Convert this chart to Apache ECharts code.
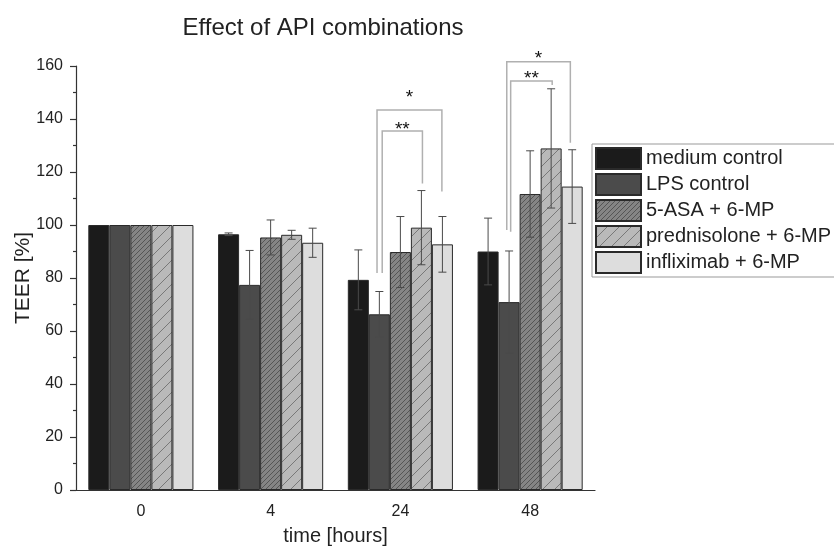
<!DOCTYPE html>
<html style="height: 100%">
<head>
<meta charset="utf-8">
</head>
<body style="height: 100%; margin: 0; background: #fff">
<div id="container" style="width: 834px; height: 549px"></div>
<script type="text/javascript" src="https://cdn.jsdelivr.net/npm/echarts@6/dist/echarts.min.js"></script>
<script type="text/javascript">
// data
var categories = ['0', '4', '24', '48'];
var seriesNames = ['medium control', 'LPS control', '5-ASA + 6-MP', 'prednisolone + 6-MP', 'infliximab + 6-MP'];

var mediumMean = [100, 96.5, 79.3, 90];
var lpsMean = [100, 77.4, 66.3, 70.9];
var asaMean = [100, 95.3, 89.8, 111.7];
var predMean = [100, 96.3, 99, 128.9];
var inflixMean = [100, 93.3, 92.7, 114.5];

var mediumErr = [0, 0.5, 11.3, 12.6];
var lpsErr = [0, 13, 8.6, 19.3];
var asaErr = [0, 6.6, 13.4, 16.3];
var predErr = [0, 1.7, 14, 22.5];
var inflixErr = [0, 5.5, 10.5, 13.9];

// significance brackets: [category, leftOffset, rightOffset, top, leftBottom, rightBottom, labelY, label]
var brackets = [
    [2, -0.18, 0.32, 143.4, 81.9, 112.6, 149.4, '*'],
    [2, -0.14, 0.17, 135.5, 81.9, 115.7, 137.5, '**'],
    [3, -0.18, 0.31, 161.6, 98.1, 131, 164.2, '*'],
    [3, -0.15, 0.17, 154.3, 97.5, 152.8, 156.6, '**']
];

var means = [mediumMean, lpsMean, asaMean, predMean, inflixMean];
var errs = [mediumErr, lpsErr, asaErr, predErr, inflixErr];

function hatch(bg, line, step, width) {
    var c = document.createElement('canvas');
    c.width = step;
    c.height = step;
    var ctx = c.getContext('2d');
    ctx.fillStyle = bg;
    ctx.fillRect(0, 0, step, step);
    ctx.strokeStyle = line;
    ctx.lineWidth = width;
    ctx.beginPath();
    ctx.moveTo(-1, step + 1);
    ctx.lineTo(step + 1, -1);
    ctx.moveTo(-1, 1);
    ctx.lineTo(1, -1);
    ctx.moveTo(step - 1, step + 1);
    ctx.lineTo(step + 1, step - 1);
    ctx.stroke();
    return { image: c, repeat: 'repeat' };
}

var fills = [
    '#1b1b1b',
    '#4b4b4b',
    hatch('#858585', '#555555', 5, 1),
    hatch('#b9b9b9', '#787878', 12, 1),
    '#dddddd'
];

var dom = document.getElementById('container');
var myChart = echarts.init(dom);

var barFrac = 0.81;
var series = [];

seriesNames.forEach(function (name, i) {
    series.push({
        type: 'bar',
        name: name,
        data: means[i],
        barGap: '0%',
        barCategoryGap: '19%',
        itemStyle: {
            color: fills[i],
            borderColor: '#2a2a2a',
            borderWidth: 1
        }
    });
});

// error bars
seriesNames.forEach(function (name, i) {
    var data = means[i].map(function (m, k) {
        return [k, m - errs[i][k], m + errs[i][k]];
    });
    series.push({
        type: 'custom',
        name: name + ' err',
        data: data,
        z: 5,
        silent: true,
        renderItem: function (params, api) {
            var k = api.value(0);
            if (api.value(2) - api.value(1) < 0.01) return null;
            var band = api.size([1, 0])[0];
            var off = band * barFrac / 5 * (i - 2);
            var lo = api.coord([k, api.value(1)]);
            var hi = api.coord([k, api.value(2)]);
            var x = lo[0] + off;
            var cap = 4;
            var st = { stroke: '#4a4a4a', lineWidth: 1 };
            return {
                type: 'group',
                children: [
                    { type: 'line', shape: { x1: x, y1: lo[1], x2: x, y2: hi[1] }, style: st },
                    { type: 'line', shape: { x1: x - cap, y1: lo[1], x2: x + cap, y2: lo[1] }, style: st },
                    { type: 'line', shape: { x1: x - cap, y1: hi[1], x2: x + cap, y2: hi[1] }, style: st }
                ]
            };
        }
    });
});

// brackets
series.push({
    type: 'custom',
    name: 'brackets',
    data: brackets,
    z: 6,
    silent: true,
    clip: false,
    renderItem: function (params, api) {
        var k = api.value(0);
        var band = api.size([1, 0])[0];
        var top = api.coord([k, api.value(3)]);
        var lb = api.coord([k, api.value(4)]);
        var rb = api.coord([k, api.value(5)]);
        var lab = api.coord([k, api.value(6)]);
        var xl = top[0] + band * api.value(1);
        var xr = top[0] + band * api.value(2);
        var st = { stroke: '#b0b0b0', lineWidth: 1.5, fill: null };
        return {
            type: 'group',
            children: [
                {
                    type: 'polyline',
                    shape: { points: [[xl, lb[1]], [xl, top[1]], [xr, top[1]], [xr, rb[1]]] },
                    style: st
                },
                {
                    type: 'text',
                    x: (xl + xr) / 2,
                    y: lab[1] + 4,
                    style: {
                        text: brackets[params.dataIndex][7],
                        fill: '#111',
                        font: '19px "Liberation Sans", Arial, sans-serif',
                        align: 'center',
                        verticalAlign: 'middle'
                    }
                }
            ]
        };
    }
});

var option = {
    backgroundColor: '#fff',
    animation: false,
    textStyle: { fontFamily: '"Liberation Sans", Arial, sans-serif' },
    title: {
        text: 'Effect of API combinations',
        left: 318,
        textAlign: 'center',
        top: 11,
        textStyle: { fontSize: 24, fontWeight: 'normal', color: '#222' }
    },
    legend: {
        data: seriesNames,
        orient: 'vertical',
        left: 592,
        top: 144,
        itemWidth: 45,
        itemHeight: 21,
        itemGap: 3,
        padding: [3, 40, 3, 3],
        borderColor: '#999',
        borderWidth: 1,
        icon: 'rect',
        textStyle: { fontSize: 20, color: '#222', padding: [0, 0, 0, 0] }
    },
    grid: {
        left: 76,
        right: 239,
        top: 66,
        bottom: 59,
        containLabel: false,
        outerBoundsMode: 'none'
    },
    xAxis: [{
        type: 'category',
        data: categories,
        name: 'time [hours]',
        nameLocation: 'middle',
        nameGap: 36,
        nameTextStyle: { fontSize: 20, color: '#222' },
        axisLine: { lineStyle: { color: '#333', width: 1.2 } },
        axisTick: { alignWithLabel: true, length: 6, lineStyle: { color: '#333', width: 1.2 } },
        axisLabel: { fontSize: 16, color: '#222', margin: 14 }
    }, {
        type: 'category',
        data: categories,
        position: 'bottom',
        axisLine: { show: false },
        axisTick: { length: 3, lineStyle: { color: '#333', width: 1.2 } },
        axisLabel: { show: false }
    }],
    yAxis: {
        type: 'value',
        min: 0,
        max: 160,
        interval: 20,
        name: 'TEER [%]',
        nameLocation: 'middle',
        nameGap: 42,
        nameMoveOverlap: false,
        nameTextStyle: { fontSize: 21, color: '#222' },
        axisLine: { show: true, lineStyle: { color: '#333', width: 1.2 } },
        axisTick: { show: true, length: 6, lineStyle: { color: '#333', width: 1.2 } },
        minorTick: { show: true, splitNumber: 2, length: 3, lineStyle: { color: '#333', width: 1.2 } },
        splitLine: { show: false },
        axisLabel: { fontSize: 16, color: '#222', margin: 13 }
    },
    series: series
};

myChart.setOption(option);
</script>
</body>
</html>
